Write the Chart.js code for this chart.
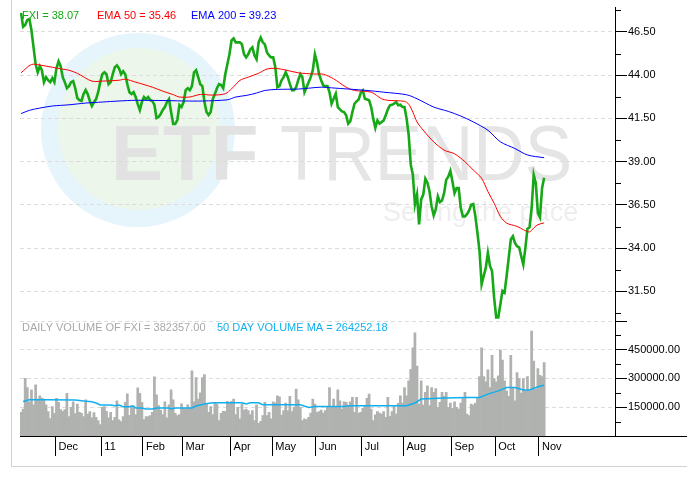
<!DOCTYPE html>
<html>
<head>
<meta charset="utf-8">
<script src="https://cdn.jsdelivr.net/npm/chart.js@4.4.1/dist/chart.umd.min.js"></script>
<style>
  html, body { margin: 0; padding: 0; background: #fff; }
  #wrap { position: relative; width: 687px; height: 483px; overflow: hidden; }
  #frame { position: absolute; left: 11px; top: -2px; width: 690px; height: 468px;
           border-left: 1px solid #d2d2d2; border-bottom: 1px solid #d2d2d2; }
  canvas { position: absolute; left: 0; top: 0; }
</style>
</head>
<body>
<div id="wrap"><div id="frame"></div><canvas id="c" width="687" height="483"></canvas></div>
<script>
const monthStart = [17, 39, 59, 78, 101, 121, 142, 164, 184, 207, 228, 249];
const monthLabels = ["Dec", "11", "Feb", "Mar", "Apr", "May", "Jun", "Jul", "Aug", "Sep", "Oct", "Nov"];
const priceTicks = [31.5, 34, 36.5, 39, 41.5, 44, 46.5];
const priceMinor = [30.25, 32.75, 35.25, 37.75, 40.25, 42.75, 45.25, 47.75];
const volTicks = [150000, 300000, 450000];
const volMinor = [75000, 225000, 375000, 525000];

// FXI daily close
const price = [
  47.6, 46.8, 46.9, 47.2, 47.25, 46.6, 45.61, 44.63, 44.17, 44.52,
  44.29, 43.60, 43.89, 43.71, 43.60, 43.83, 43.60, 44.40, 44.80, 44.52,
  43.89, 43.60, 43.25, 43.37, 43.60, 43.66, 43.25, 42.68, 42.56, 42.51,
  42.91, 43.14, 42.91, 42.51, 42.22, 42.45, 42.62, 43.02, 43.60, 44.06,
  44.17, 44.06, 43.48, 43.60, 44.06, 44.46, 44.57, 44.40, 44.06, 44.23,
  44.06, 43.48, 43.02, 42.91, 43.02, 42.74, 42.33, 41.99, 42.45, 42.74,
  42.62, 42.74, 42.56, 42.51, 42.28, 41.53, 41.59, 41.76, 41.99, 42.16,
  42.45, 42.62, 41.87, 41.18, 41.18, 41.41, 42.28, 42.16, 42.45, 43.14,
  43.25, 43.14, 43.37, 44.17, 44.29, 43.89, 43.48, 43.37, 42.45, 41.87,
  41.70, 41.87, 42.62, 42.91, 43.25, 43.48, 43.43, 43.25, 44.06, 44.63,
  45.21, 46.01, 46.13, 45.90, 45.90, 45.90, 45.78, 45.21, 45.03, 45.21,
  45.49, 45.61, 45.15, 44.92, 45.90, 46.18, 45.90, 45.78, 45.32, 45.15,
  45.03, 45.03, 44.46, 43.31, 43.37, 43.71, 43.89, 44.17, 43.89, 43.48,
  43.14, 43.14, 43.31, 43.71, 44.06, 43.89, 43.02, 43.31, 43.60, 43.89,
  44.29, 45.21, 44.75, 44.06, 43.71, 43.41, 43.37, 43.37, 43.02, 42.35,
  42.64, 42.93, 42.16, 42.03, 41.91, 41.87, 41.68, 41.20, 41.34, 41.87,
  42.35, 42.49, 42.60, 42.98, 43.12, 42.64, 42.60, 42.55, 42.16, 41.49,
  40.95, 41.39, 41.20, 41.30, 41.39, 41.68, 42.03, 42.26, 42.29, 42.35,
  42.45, 42.26, 42.29, 42.16, 42.16, 41.49, 40.55, 38.83, 38.25, 36.53,
  37.10, 35.38, 36.82, 37.10, 38.02, 37.79, 37.28, 36.41, 35.90, 36.24,
  36.99, 36.66, 36.76, 37.18, 37.95, 38.14, 38.47, 37.85, 37.18, 37.47,
  37.47, 36.32, 35.84, 35.84, 35.97, 36.18, 36.51, 36.55, 35.84, 34.88,
  33.83, 31.91, 32.39, 32.86, 33.73, 32.97, 32.68, 31.14, 29.99, 29.99,
  30.76, 31.53, 31.43, 32.39, 33.44, 34.50, 34.69, 34.30, 34.11, 34.05,
  33.54, 33.06, 34.02, 35.13, 35.21, 36.32, 38.23, 37.75, 36.03, 35.78,
  37.47, 38.07
];

const ema50Day = [0, 5, 9, 15, 20, 23, 27, 34, 39, 47, 50, 55, 63, 68, 73, 76, 81, 86, 92, 98,
  101, 105, 109, 114, 118, 122, 127, 133, 141, 145, 150, 156, 160, 168, 173, 176, 184, 186, 188, 190,
  193, 198, 203, 208, 213, 217, 221, 224, 227, 230, 233, 238, 241, 244, 246, 248, 251];
const ema50 = [44.14, 44.62, 44.59, 44.46, 44.35, 44.29, 44.11, 43.66, 43.66, 43.71, 43.77, 43.60, 43.31, 43.08, 42.88, 42.74, 42.74, 42.89, 42.85, 42.93,
  43.21, 43.70, 43.89, 44.11, 44.36, 44.40, 44.30, 44.14, 44.07, 44.06, 43.79, 43.31, 43.12, 43.02, 42.64, 42.55, 42.49, 42.33, 41.87, 41.30,
  40.82, 40.15, 39.67, 39.46, 39.00, 38.52, 38.04, 37.28, 36.60, 35.84, 35.45, 35.26, 35.07, 34.94, 35.17, 35.36, 35.46];

const ema200Day = [0, 4, 9, 15, 23, 31, 39, 47, 55, 71, 79, 87, 99, 103, 108, 113, 117, 123, 133, 138,
  144, 149, 166, 174, 185, 190, 198, 205, 211, 217, 224, 230, 237, 243, 251];
const ema200 = [41.78, 41.97, 42.10, 42.22, 42.29, 42.39, 42.45, 42.51, 42.55, 42.53, 42.51, 42.51, 42.58, 42.74, 42.83, 42.97, 43.12, 43.18, 43.20, 43.25,
  43.31, 43.27, 43.12, 43.02, 42.87, 42.64, 42.16, 41.91, 41.64, 41.30, 40.82, 40.15, 39.76, 39.39, 39.23];

const volume = [
  123300, 140500, 300800, 252600, 178400, 240500, 162900, 266400, 192200, 209500,
  197400, 192200, 162900, 126700, 90500, 152600, 118100, 195700, 175000, 137100,
  128400, 137100, 221500, 100900, 149100, 178400, 116400, 166400, 123300, 118100,
  100900, 188800, 114600, 126700, 94000, 121500, 97400, 80200, 59500, 149100,
  152600, 128400, 94000, 123300, 80200, 97400, 183600, 83600, 75000, 100900,
  175000, 219800, 107800, 157700, 152600, 111200, 250800, 221500, 175000, 85300,
  100900, 100900, 106000, 123300, 307700, 214600, 157700, 135300, 111200, 178400,
  94000, 162900, 240500, 188800, 118100, 106000, 111200, 168100, 144000, 140500,
  162900, 144000, 338800, 178400, 304300, 192200, 225000, 304300, 319800, 166400,
  123300, 152600, 111200, 169800, 166400, 80200, 118100, 128400, 128400, 180200,
  169800, 180200, 192200, 111200, 149100, 88800, 166400, 135300, 140500, 131900,
  111200, 131900, 80200, 162900, 66400, 76700, 106000, 175000, 106000, 123300,
  88800, 178400, 173300, 209500, 204300,
  109500, 131900, 171500, 131900, 206000, 126700, 150000, 244000, 188800, 149100,
  80200, 88800, 85300, 97400, 119800, 192200, 166400, 123300, 126700, 135000,
  119800, 131900, 149100, 252600, 149100, 192200, 149100, 240500, 183600, 140500,
  178400, 175000, 160000, 178400, 200800, 123300, 200800, 119800, 123300, 144000,
  157700, 195700, 218100, 140500, 80200, 110000, 126700, 119800, 114600, 126700,
  97400, 200800, 102600, 126700, 157700, 114600, 170000, 209500, 171500, 252600,
  209500, 287000, 347400, 459400, 537000,
  364600, 166400, 287000, 161200, 226700, 261200, 157700, 252600, 226700, 247400,
  149100, 175000, 226700, 206000, 226700, 149100, 171500, 144000, 178400, 149100,
  140500, 171500, 195700, 226700, 114600, 106000, 166400, 161200, 171500, 200800,
  309500, 459400, 309500, 281900, 343900, 252600, 419800, 299100, 281900, 312900,
  447400, 395700, 287000, 235300, 206000, 419800, 252600, 183600, 330100, 299100,
  223300, 299100, 235300, 309500, 235300, 545600, 390500, 244000, 350800, 316400,
  309500, 382357
];

const volMaDay = [1, 4, 12, 26, 30, 34, 36, 38, 43, 45, 47, 49, 52, 54, 55, 58, 60, 63, 65, 71,
  72, 74, 82, 84, 88, 92, 106, 108, 110, 114, 116, 134, 138, 141, 155, 157, 173, 180, 185, 189,
  192, 203, 214, 220, 224, 229, 233, 237, 241, 244, 248, 251];
const volMa = [180000, 188800, 188800, 187200, 182000, 178400, 171700, 161400, 161400, 157700, 161400, 152600, 152600, 156200, 145800, 145800, 140700, 140700, 145800, 145800,
  140700, 145800, 145800, 156200, 166500, 173300, 173300, 166500, 173300, 173300, 162900, 162900, 149000, 154000, 154000, 157000, 157000, 157700, 157700, 172000,
  192000, 197500, 200700, 200700, 218000, 235000, 252000, 252000, 240000, 240000, 256000, 264252.18];

const FONT = '"Liberation Sans", Arial, sans-serif';
const GREEN = "#17a817", RED = "#ff0000", BLUE = "#0000ff", CYAN = "#10b0f0";

const days = price.map((_, i) => i);
const pts = (xs, ys) => xs.map((x, i) => ({ x, y: ys[i] }));
const last = (a) => a[a.length - 1];

const overlay = {
  id: "overlay",
  beforeDraw(chart) {
    // ETF Trends watermark
    const ctx = chart.ctx;
    ctx.save();
    ctx.fillStyle = "#e6f4fb";
    ctx.beginPath(); ctx.arc(138, 130, 97, 0, Math.PI * 2); ctx.fill();
    ctx.fillStyle = "#ecf6ea";
    ctx.beginPath(); ctx.arc(139, 129, 81, 0, Math.PI * 2); ctx.fill();
    ctx.textBaseline = "alphabetic";
    ctx.fillStyle = "#e2e2e2";
    ctx.font = "bold 78px " + FONT;
    ctx.fillText("ETF", 111, 180);
    ctx.fillStyle = "#e5e5e5";
    ctx.font = "77px " + FONT;
    const w = ctx.measureText("TRENDS").width;
    ctx.save();
    ctx.translate(280, 180);
    ctx.scale(292 / w, 1);
    ctx.fillText("TRENDS", 0, 0);
    ctx.restore();
    ctx.fillStyle = "#eeeeee";
    ctx.font = "27px " + FONT;
    ctx.fillText("Setting the pace", 383, 221);
    ctx.restore();
  },
  beforeDatasetsDraw(chart) {
    const { ctx, chartArea } = chart;
    const yv = chart.scales.yv;
    ctx.save();
    ctx.font = "11px " + FONT;
    ctx.textBaseline = "middle";
    const x0 = chartArea.left + 2;
    const items = [
      [`FXI = ${last(price).toFixed(2)}`, GREEN, x0, chartArea.top + 8],
      [`EMA 50 = ${last(ema50).toFixed(2)}`, RED, 97, chartArea.top + 8],
      [`EMA 200 = ${last(ema200).toFixed(2)}`, BLUE, 191, chartArea.top + 8],
      [`DAILY VOLUME OF FXI = ${last(volume).toFixed(2)}`, "#a8a8a8", x0, yv.top + 6],
      [`50 DAY VOLUME MA = ${last(volMa).toFixed(2)}`, CYAN, 217, yv.top + 6],
    ];
    items.forEach(([t, c, x, y]) => { ctx.fillStyle = c; ctx.fillText(t, x, y); });
    ctx.restore();
  },
  afterDraw(chart) {
    const { ctx, chartArea } = chart;
    ctx.save();
    ctx.strokeStyle = "#000";
    ctx.lineWidth = 1;
    ctx.beginPath();
    const minor = (scale, vals) => vals.forEach((v) => {
      const p = Math.round(scale.getPixelForValue(v)) + 0.5;
      ctx.moveTo(scale.left, p);
      ctx.lineTo(scale.left + 6, p);
    });
    minor(chart.scales.y, priceMinor);
    minor(chart.scales.yv, volMinor);
    // bottom axis line runs under the price labels too
    const b = Math.round(chartArea.bottom) + 0.5;
    ctx.moveTo(chartArea.right, b);
    ctx.lineTo(chart.width, b);
    ctx.stroke();
    ctx.restore();
  },
};

const tickFont = { family: FONT, size: 11 };

new Chart(document.getElementById("c"), {
  type: "bar",
  data: {
    labels: days,
    datasets: [
      { type: "line", data: price, yAxisID: "y", borderColor: GREEN, borderWidth: 2.6, pointRadius: 0, tension: 0, order: 3 },
      { type: "line", data: pts(ema50Day, ema50), yAxisID: "y", borderColor: RED, borderWidth: 1, pointRadius: 0, tension: 0.3, order: 2 },
      { type: "line", data: pts(ema200Day, ema200), yAxisID: "y", borderColor: BLUE, borderWidth: 1, pointRadius: 0, tension: 0.3, order: 1 },
      { type: "bar", data: volume, yAxisID: "yv", backgroundColor: "#b0b2b0", barPercentage: 1, categoryPercentage: 1, order: 5 },
      { type: "line", data: pts(volMaDay, volMa), yAxisID: "yv", borderColor: CYAN, borderWidth: 1.5, pointRadius: 0, tension: 0, order: 0 },
    ],
  },
  options: {
    responsive: false,
    animation: false,
    devicePixelRatio: 1,
    layout: { padding: { left: 20, top: 5, right: 0, bottom: 0 } },
    plugins: { legend: { display: false }, tooltip: { enabled: false } },
    scales: {
      x: {
        type: "linear", min: -0.5, max: 285, offset: false,
        afterBuildTicks: (s) => { s.ticks = monthStart.map((d) => ({ value: d - 0.5 })); },
        afterFit: (s) => { s.height = 47; },
        grid: { offset: false, drawOnChartArea: false, tickLength: 20, tickColor: "#000" },
        border: { color: "#000" },
        ticks: {
          align: "start", padding: -16, color: "#000", font: tickFont, autoSkip: false, maxRotation: 0,
          callback: (v, i) => " " + monthLabels[i],
        },
      },
      y: {
        type: "linear", position: "right", stack: "panels", stackWeight: 316,
        min: 29.75, max: 47.91,
        afterBuildTicks: (s) => { s.ticks = priceTicks.map((v) => ({ value: v })); },
        afterFit: (s) => { s.width = 72; },
        grid: { color: "#dcdcdc", tickLength: 12, tickColor: "#000" },
        border: { color: "#000", dash: [4, 3] },
        ticks: { padding: 1, color: "#000", font: tickFont, autoSkip: false, callback: (v) => v.toFixed(2) },
      },
      yv: {
        type: "linear", position: "right", stack: "panels", stackWeight: 115,
        min: 0, max: 595000,
        afterBuildTicks: (s) => { s.ticks = [...volTicks, s.max].map((v) => ({ value: v })); },
        afterFit: (s) => { s.width = 72; },
        grid: { color: "#dcdcdc", tickLength: 12, tickColor: "#000" },
        border: { color: "#000", dash: [4, 3] },
        ticks: { padding: 1, color: "#000", font: tickFont, autoSkip: false,
                 callback: (v) => (volTicks.includes(v) ? v.toFixed(2) : "") },
      },
    },
  },
  plugins: [overlay],
});
</script>
</body>
</html>
